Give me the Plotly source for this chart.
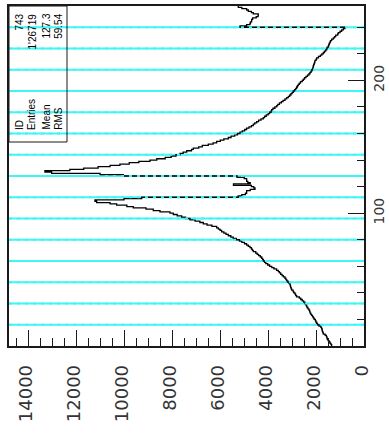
import plotly.graph_objects as go

# Histogram 743: 256 unit-width bins on [0, 256)
bin_edges = list(range(0, 257))
counts = [
    # 0-15
    1350, 1380, 1420, 1460, 1500, 1530, 1550, 1570, 1620, 1700, 1720, 1740, 1750, 1770, 1800, 1880,
    # 16-31
    1940, 1975, 2010, 2030, 2080, 2110, 2150, 2190, 2230, 2255, 2270, 2300, 2340, 2380, 2400, 2440,
    # 32-47
    2463, 2520, 2580, 2640, 2700, 2810, 2850, 2880, 2930, 2960, 3019, 3040, 3060, 3075, 3090, 3130,
    # 48-63
    3180, 3227, 3260, 3300, 3369, 3420, 3480, 3530, 3578, 3650, 3760, 3850, 3940, 4020, 4100, 4150,
    # 64-79
    4200, 4230, 4271, 4330, 4400, 4460, 4520, 4622, 4660, 4700, 4760, 4830, 4900, 4990, 5100, 5200,
    # 80-95
    5330, 5457, 5560, 5665, 5760, 5850, 5941, 6010, 6080, 6150, 6350, 6550, 6709, 6850, 7050, 7265,
    # 96-111
    7450, 7611, 7800, 7962, 8100, 8517, 8797, 9100, 9632, 9900, 10325, 10600, 11160, 11231, 10020, 9280,
    # 112-127
    5250, 5100, 4950, 4900, 4898, 4750, 4550, 4600, 4700, 5450, 4750, 4850, 4898, 4900, 5000, 5300,
    # 128-143
    10049, 11020, 13040, 13320, 12280, 11700, 11100, 10600, 10190, 9800, 9400, 8935, 8650, 8300, 8050, 7850,
    # 144-159
    7682, 7550, 7402, 7200, 7127, 6900, 6750, 6500, 6300, 6150, 6000, 5850, 5665, 5550, 5400, 5280,
    # 160-175
    5177, 5080, 4980, 4900, 4800, 4700, 4622, 4560, 4480, 4400, 4300, 4204, 4150, 4080, 4000, 3940,
    # 176-191
    3880, 3854, 3800, 3720, 3645, 3600, 3530, 3450, 3380, 3300, 3227, 3160, 3100, 3050, 3000, 2952,
    # 192-207
    2900, 2850, 2810, 2780, 2743, 2700, 2650, 2580, 2534, 2480, 2420, 2360, 2300, 2255, 2210, 2180,
    # 208-223
    2150, 2130, 2117, 2100, 2080, 2060, 2046, 2000, 1975, 1900, 1820, 1760, 1699, 1650, 1600, 1557,
    # 224-239
    1540, 1490, 1470, 1450, 1420, 1400, 1350, 1282, 1230, 1180, 1100, 1073, 1000, 931, 860, 793,
    # 240-255
    5177, 4900, 4760, 4740, 4690, 4690, 4650, 4500, 4420, 4413, 4622, 4700, 4830, 4900, 5100, 5248,
]

# Marker lines every 16 bins
marker_bins = list(range(16, 256, 16))

# Axis tick values
value_ticks = [0, 2000, 4000, 6000, 8000, 10000, 12000, 14000]
bin_ticks = [100, 200]

# Statistics panel
stat_names = ["ID", "Entries", "Mean", "RMS"]
stat_values = ["743", "1'26719", "127.3", "59.54"]

value_max = 14820
bin_min, bin_max = 0, 256

# step outline: each bin drawn from its lower edge to its upper edge
step_x = counts + [counts[-1]]
step_y = bin_edges

grid_x, grid_y = [], []
for b in marker_bins:
    grid_x += [0, value_max, None]
    grid_y += [b, b, None]

CYAN = "#3ef6f6"
INK = "#1a1a1a"
LABEL = "#333333"

fig = go.Figure()
fig.add_trace(go.Scatter(x=grid_x, y=grid_y, mode="lines",
                         line=dict(color=CYAN, width=2), hoverinfo="skip"))
fig.add_trace(go.Scatter(x=step_x, y=step_y, mode="lines", line_shape="vh",
                         line=dict(color="black", width=1.3)))
fig.add_trace(go.Scatter(x=grid_x, y=grid_y, mode="lines",
                         line=dict(color=CYAN, width=2, dash="3px,5px"),
                         hoverinfo="skip"))

W, H = 389, 434
ml, mr, mt, mb = 9, 25, 6, 88
pw, ph = W - ml - mr, H - mt - mb


def px(x):
    return (x - ml) / pw


def py(y):
    return (H - mb - y) / ph


stat_cols = [19, 31.5, 46, 58.3]
for name, val, cx in zip(stat_names, stat_values, stat_cols):
    fig.add_annotation(x=px(cx), y=py(132), xref="paper", yref="paper",
                       text=name, showarrow=False, textangle=-90,
                       xanchor="center", yanchor="bottom",
                       font=dict(family="Liberation Sans", size=10, color="black"))
    fig.add_annotation(x=px(cx), y=py(12), xref="paper", yref="paper",
                       text=val, showarrow=False, textangle=-90,
                       xanchor="center", yanchor="top",
                       font=dict(family="Liberation Sans", size=10, color="black"))

fig.add_shape(type="rect", xref="paper", yref="paper",
              x0=0, x1=px(67), y0=py(142), y1=1,
              line=dict(color=INK, width=1), layer="above")

fig.update_layout(
    width=W, height=H,
    margin=dict(l=ml, r=mr, t=mt, b=mb, pad=0, autoexpand=False),
    paper_bgcolor="white", plot_bgcolor="white",
    showlegend=False,
    font=dict(family="DejaVu Sans", color=INK),
    xaxis=dict(
        range=[value_max, 0], showgrid=False, zeroline=False, automargin=False,
        showline=True, mirror=True, linecolor=INK, linewidth=1.5,
        ticks="inside", ticklen=16, tickwidth=1, tickcolor=INK,
        tickvals=value_ticks, ticktext=[str(v) for v in value_ticks],
        tickangle=-90, ticklabelstandoff=10, ticklabelshift=2,
        tickfont=dict(family="DejaVu Sans", size=18, color=LABEL),
        minor=dict(ticks="inside", ticklen=8, tick0=0, dtick=500,
                   tickcolor=INK, showgrid=False),
    ),
    yaxis=dict(
        range=[bin_min, bin_max], side="right", showgrid=False, zeroline=False,
        automargin=False,
        showline=True, mirror=True, linecolor=INK, linewidth=1.5,
        ticks="inside", ticklen=16, tickwidth=1, tickcolor=INK,
        tickvals=bin_ticks, ticktext=[str(v) for v in bin_ticks],
        tickangle=-90, ticklabelstandoff=1,
        tickfont=dict(family="DejaVu Sans", size=14, color=LABEL),
        minor=dict(ticks="inside", ticklen=7, tick0=0, dtick=20,
                   tickcolor=INK, showgrid=False),
    ),
)

fig.write_html("out.html")
